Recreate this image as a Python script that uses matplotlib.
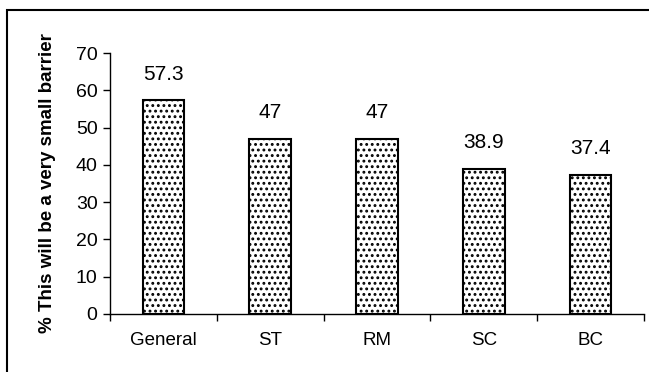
import numpy as np
import matplotlib
matplotlib.use("Agg")
from matplotlib import pyplot as plt
from matplotlib.patches import Rectangle

# Share of respondents per group
groups = ['General', 'ST', 'RM', 'SC', 'BC']
values = [57.3, 47, 47, 38.9, 37.4]
yticks = [0, 10, 20, 30, 40, 50, 60, 70]

plt.rcParams['font.family'] = ['Liberation Sans', 'DejaVu Sans']
plt.rcParams['hatch.linewidth'] = 1.3
plt.rcParams['hatch.color'] = '#555555'

fig = plt.figure(figsize=(6.49, 3.72), dpi=100)
ax = fig.add_axes([110 / 649, 1 - 314 / 372, 534 / 649, 261 / 372])

x = np.arange(len(groups))
bars = ax.bar(x, values, width=0.39, color='white', edgecolor='black',
              linewidth=1.5, hatch='...', zorder=2)

for xi, v in zip(x, values):
    ax.annotate(f'{v:g}', (xi, v), xytext=(0, 12), textcoords='offset points',
                ha='center', va='bottom', fontsize=15)

ax.set_xlim(-0.5, len(groups) - 0.5)
ax.set_ylim(0, 70)
ax.set_yticks(yticks)
ax.tick_params(axis='y', labelsize=14, direction='out', length=5, width=1, pad=4)

ax.set_xticks(x)
ax.set_xticklabels(groups, fontsize=13.5)
ax.tick_params(axis='x', which='major', length=0, pad=13)
ax.set_xticks(np.arange(len(groups) + 1) - 0.5, minor=True)
ax.tick_params(axis='x', which='minor', direction='out', length=5, width=1)

for side in ['top', 'right']:
    ax.spines[side].set_visible(False)
ax.spines['left'].set_linewidth(1)
ax.spines['bottom'].set_linewidth(1)

ax.set_ylabel('% This will be a very small barrier', fontsize=13.5,
              fontweight='bold', labelpad=14)

# outer frame around the chart area
fig.patches.append(Rectangle((7 / 649, -0.1), 1.0, 1 - 10 / 372 + 0.1,
                             transform=fig.transFigure, fill=False,
                             edgecolor='black', linewidth=1.5))

fig.savefig('out.png', dpi=100)
